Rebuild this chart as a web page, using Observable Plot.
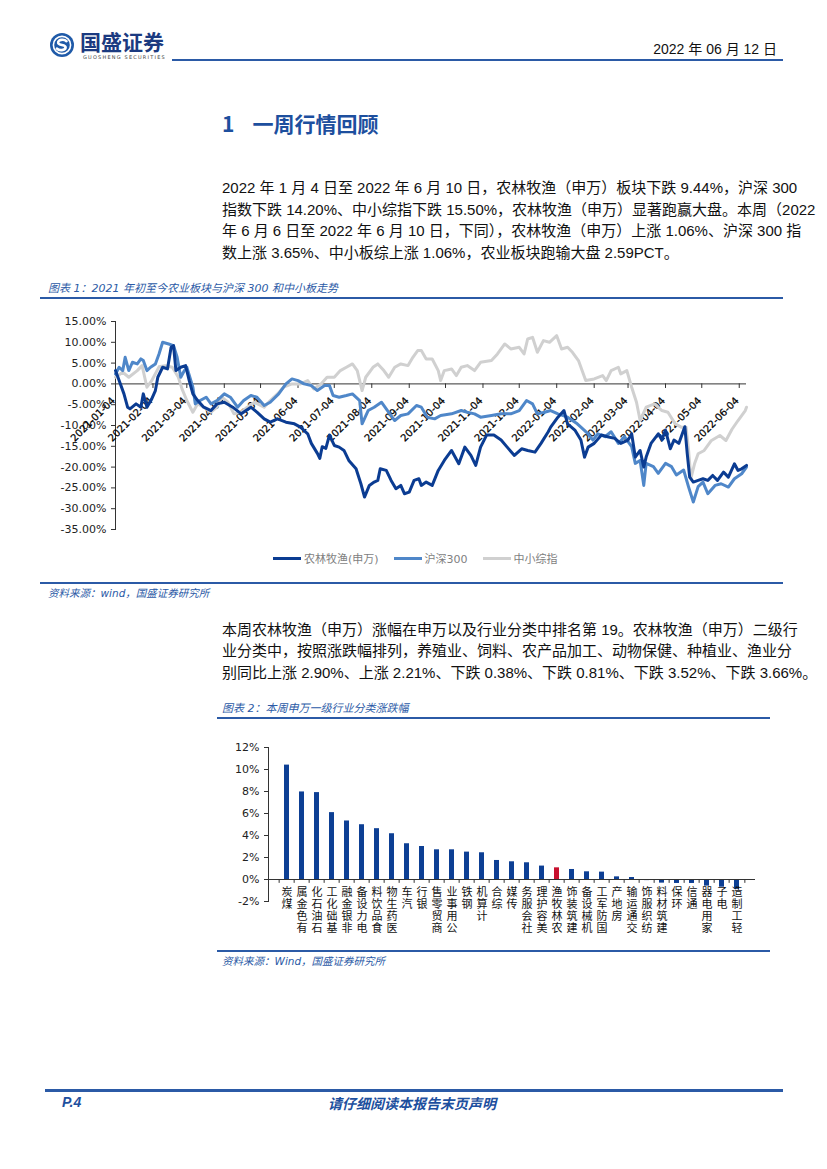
<!DOCTYPE html>
<html><head><meta charset="utf-8">
<script src="https://cdn.jsdelivr.net/npm/d3@7"></script>
<script src="https://cdn.jsdelivr.net/npm/@observablehq/plot@0.6"></script>
<style>
body{margin:0;background:#fff;}
#page{position:relative;width:827px;height:1169px;overflow:hidden;font-family:"Liberation Sans","Noto Sans CJK SC",sans-serif;color:#111;}
.abs{position:absolute;white-space:nowrap;}
.rule{position:absolute;background:#2b5aa6;}
.para{position:absolute;left:222px;width:561px;font-size:15px;color:#111;font-family:"Liberation Sans","Noto Sans CJK SC",sans-serif;}
.para div{text-align:justify;text-align-last:justify;white-space:nowrap;}
.para div.last{text-align-last:left;}
.cap{position:absolute;font-size:11px;font-style:italic;color:#2b5aa6;font-family:"DejaVu Sans","Noto Sans CJK SC",sans-serif;white-space:nowrap;}
.legend{position:absolute;left:273px;top:550px;display:flex;align-items:center;font-size:11px;color:#7f7f7f;font-family:"DejaVu Sans","Noto Sans CJK SC",sans-serif;}
.legend .sw{display:inline-block;width:28px;height:3px;margin-right:3px;}
.legend .it{display:flex;align-items:center;margin-right:15px;}
</style></head>
<body><div id="page">
<svg class="abs" style="left:50px;top:33px" width="24" height="24" viewBox="0 0 24 24">
<circle cx="12" cy="12" r="12" fill="#1f5aa8"/>
<circle cx="12" cy="12" r="8.6" fill="none" stroke="#fff" stroke-width="1.6"/>
<path d="M16.5 8.2 C14 5.8 7.5 6.5 8.2 10 C8.8 12.8 15.8 11.2 15.6 14.5 C15.3 17.6 9 18 7 15.6" fill="none" stroke="#fff" stroke-width="2.6" stroke-linecap="round"/>
</svg>
<div class="abs" style="left:80px;top:29px;font-size:21px;font-weight:700;color:#1b3a80;font-family:'Noto Sans CJK SC';line-height:24px;">国盛证券</div>
<div class="abs" style="left:83px;top:54px;font-size:5px;line-height:6px;letter-spacing:1.2px;color:#444;font-family:'DejaVu Sans';">GUOSHENG SECURITIES</div>
<div class="abs" style="right:50px;top:40px;font-size:14px;color:#111;line-height:18px;">2022 年 06 月 12 日</div>
<div class="rule" style="left:172px;top:59px;width:611px;height:2px;"></div>

<div class="abs" style="left:222px;top:110px;font-size:21px;font-weight:700;color:#1d4f9e;font-family:'Noto Sans CJK SC';line-height:26px;"><span style="margin-right:18px;">1</span>一周行情回顾</div>

<div class="para" style="top:177px;line-height:21.7px;">
<div>2022 年 1 月 4 日至 2022 年 6 月 10 日，农林牧渔（申万）板块下跌 9.44%，沪深 300</div>
<div>指数下跌 14.20%、中小综指下跌 15.50%，农林牧渔（申万）显著跑赢大盘。本周（2022</div>
<div>年 6 月 6 日至 2022 年 6 月 10 日，下同），农林牧渔（申万）上涨 1.06%、沪深 300 指</div>
<div class="last">数上涨 3.65%、中小板综上涨 1.06%，农业板块跑输大盘 2.59PCT。</div>
</div>

<div class="cap" style="left:48px;top:279px;">图表 1：2021 年初至今农业板块与沪深 300 和中小板走势</div>
<div class="rule" style="left:40px;top:297px;width:743px;height:2px;"></div>
<div id="chart1" class="abs" style="left:40px;top:305px;"></div>
<div class="legend">
<span class="it"><span class="sw" style="background:#0b3c92"></span>农林牧渔(申万)</span>
<span class="it"><span class="sw" style="background:#4f87c9"></span>沪深300</span>
<span class="it"><span class="sw" style="background:#d0d0d0"></span>中小综指</span>
</div>
<div class="rule" style="left:40px;top:582px;width:743px;height:1.5px;"></div>
<div class="cap" style="left:48px;top:585px;font-size:10.5px;">资料来源：wind，国盛证券研究所</div>

<div class="para" style="top:619px;line-height:21.3px;">
<div>本周农林牧渔（申万）涨幅在申万以及行业分类中排名第 19。农林牧渔（申万）二级行</div>
<div>业分类中，按照涨跌幅排列，养殖业、饲料、农产品加工、动物保健、种植业、渔业分</div>
<div class="last">别同比上涨 2.90%、上涨 2.21%、下跌 0.38%、下跌 0.81%、下跌 3.52%、下跌 3.66%。</div>
</div>

<div class="cap" style="left:222px;top:699px;">图表 2：本周申万一级行业分类涨跌幅</div>
<div class="rule" style="left:217px;top:717px;width:553px;height:2px;"></div>
<div id="chart2" class="abs" style="left:217px;top:735px;"></div>
<div class="rule" style="left:217px;top:950px;width:553px;height:2px;"></div>
<div class="cap" style="left:222px;top:953px;font-size:10.5px;">资料来源：Wind，国盛证券研究所</div>

<div class="rule" style="left:45px;top:1089px;width:738px;height:3px;"></div>
<div class="abs" style="left:62px;top:1094px;font-size:14px;font-weight:700;font-style:italic;color:#1d4f9e;">P.4</div>
<div class="abs" style="left:328px;top:1094px;font-size:14px;font-weight:700;font-style:italic;color:#1d4f9e;font-family:'Noto Sans CJK SC';line-height:18px;">请仔细阅读本报告末页声明</div>
</div>
<script>
// ---------- Chart 1 data (cumulative change, %) ----------
const seriesNames = ["农林牧渔(申万)", "沪深300", "中小综指"];
const agriDates = ["2021-01-04","2021-01-07","2021-01-11","2021-01-14","2021-01-16","2021-01-21","2021-01-25","2021-01-27","2021-01-30","2021-02-03","2021-02-06","2021-02-08","2021-02-12","2021-02-16","2021-02-19","2021-02-21","2021-02-23","2021-02-27","2021-03-03","2021-03-06","2021-03-09","2021-03-13","2021-03-18","2021-03-24","2021-03-29","2021-04-04","2021-04-11","2021-04-18","2021-04-26","2021-05-01","2021-05-07","2021-05-12","2021-05-18","2021-05-25","2021-06-01","2021-06-06","2021-06-12","2021-06-15","2021-06-20","2021-06-22","2021-06-24","2021-06-27","2021-06-30","2021-07-04","2021-07-08","2021-07-12","2021-07-16","2021-07-22","2021-07-26","2021-07-29","2021-08-02","2021-08-06","2021-08-09","2021-08-11","2021-08-16","2021-08-20","2021-08-24","2021-08-28","2021-08-31","2021-09-04","2021-09-08","2021-09-12","2021-09-14","2021-09-18","2021-09-23","2021-09-28","2021-10-03","2021-10-09","2021-10-15","2021-10-20","2021-10-25","2021-10-29","2021-11-02","2021-11-07","2021-11-13","2021-11-19","2021-11-24","2021-11-30","2021-12-06","2021-12-11","2021-12-17","2021-12-22","2021-12-28","2021-12-30","2022-01-05","2022-01-10","2022-01-13","2022-01-19","2022-01-24","2022-01-27","2022-01-30","2022-02-04","2022-02-10","2022-02-15","2022-02-21","2022-02-26","2022-03-04","2022-03-07","2022-03-10","2022-03-14","2022-03-17","2022-03-19","2022-03-23","2022-03-29","2022-04-01","2022-04-04","2022-04-08","2022-04-11","2022-04-15","2022-04-19","2022-04-20","2022-04-22","2022-04-24","2022-04-27","2022-05-01","2022-05-05","2022-05-09","2022-05-13","2022-05-17","2022-05-22","2022-05-26","2022-05-31","2022-06-03","2022-06-06","2022-06-10"];
const agriValues = [3.2,0.8,-2.4,-5.6,-6.0,-4.8,-5.6,-2.4,-5.6,-3.6,-1.6,1.6,4.0,3.6,8.8,9.2,3.2,4.0,4.4,0.8,-2.4,-4.0,-5.6,-6.4,-4.8,-4.4,-5.6,-7.2,-5.6,-6.8,-8.4,-9.2,-8.4,-9.2,-9.6,-10.4,-12.0,-14.3,-16.7,-17.9,-15.1,-15.5,-12.3,-14.8,-15.2,-16.0,-18.4,-20.4,-24.0,-27.2,-24.4,-23.6,-23.2,-20.4,-20.8,-23.2,-25.2,-24.4,-26.4,-26.0,-23.2,-22.8,-24.4,-23.6,-24.4,-20.8,-18.4,-16.0,-19.2,-15.2,-17.2,-19.6,-15.2,-12.3,-12.3,-13.5,-15.2,-17.2,-15.6,-16.0,-16.4,-14.3,-11.5,-10.4,-8.0,-6.4,-9.6,-11.1,-13.5,-17.6,-15.2,-14.3,-12.3,-12.7,-13.1,-14.3,-13.5,-12.0,-17.6,-16.0,-20.0,-17.6,-14.3,-12.0,-13.5,-11.1,-15.6,-13.5,-14.3,-11.1,-10.3,-16.8,-22.4,-23.6,-23.2,-22.8,-23.2,-22.0,-23.2,-21.2,-22.4,-19.2,-20.8,-20.4,-19.6];

const hs300Dates = ["2021-01-04","2021-01-07","2021-01-10","2021-01-12","2021-01-15","2021-01-18","2021-01-22","2021-01-25","2021-01-27","2021-01-30","2021-02-02","2021-02-06","2021-02-09","2021-02-12","2021-02-17","2021-02-21","2021-02-24","2021-02-27","2021-03-02","2021-03-04","2021-03-09","2021-03-11","2021-03-15","2021-03-20","2021-03-24","2021-03-29","2021-04-04","2021-04-09","2021-04-15","2021-04-20","2021-04-26","2021-05-01","2021-05-07","2021-05-12","2021-05-19","2021-05-25","2021-05-30","2021-06-04","2021-06-09","2021-06-15","2021-06-20","2021-06-26","2021-06-30","2021-07-03","2021-07-08","2021-07-14","2021-07-19","2021-07-25","2021-07-27","2021-08-01","2021-08-06","2021-08-12","2021-08-17","2021-08-23","2021-08-28","2021-09-03","2021-09-10","2021-09-14","2021-09-19","2021-09-25","2021-09-30","2021-10-09","2021-10-17","2021-10-22","2021-10-28","2021-11-02","2021-11-11","2021-11-19","2021-11-27","2021-12-04","2021-12-10","2021-12-15","2021-12-19","2021-12-25","2021-12-30","2022-01-05","2022-01-13","2022-01-21","2022-01-24","2022-01-30","2022-02-03","2022-02-07","2022-02-13","2022-02-18","2022-02-24","2022-03-01","2022-03-07","2022-03-10","2022-03-14","2022-03-17","2022-03-19","2022-03-25","2022-03-29","2022-04-04","2022-04-09","2022-04-13","2022-04-19","2022-04-23","2022-04-27","2022-05-01","2022-05-05","2022-05-09","2022-05-15","2022-05-20","2022-05-26","2022-05-31","2022-06-06","2022-06-10"];
const hs300Values = [2.4,4.0,3.2,6.4,3.2,5.2,4.8,6.0,5.6,3.2,4.0,4.8,7.2,10.0,9.6,9.2,6.4,1.6,3.2,4.0,-0.8,-4.8,-4.0,-3.2,-4.8,-4.0,-2.4,-3.2,-5.6,-4.0,-2.8,-3.2,-5.2,-4.4,-2.4,0.0,1.2,0.8,0.0,-0.4,-1.6,-0.4,-0.4,-2.8,-3.2,-2.8,-2.4,-4.0,-9.6,-6.4,-5.6,-4.4,-6.4,-8.8,-7.6,-7.2,-5.2,-5.6,-8.0,-8.4,-7.6,-7.2,-6.4,-6.8,-7.2,-8.0,-7.6,-7.2,-7.2,-6.4,-4.0,-4.8,-7.2,-6.8,-6.4,-7.2,-8.0,-9.6,-10.4,-12.0,-13.5,-12.0,-12.7,-11.5,-14.3,-12.7,-15.1,-19.1,-18.4,-24.4,-19.1,-19.9,-21.5,-19.1,-19.9,-21.9,-20.7,-24.7,-28.4,-24.7,-23.6,-26.4,-24.4,-24.0,-24.8,-22.8,-21.6,-20.0];

const smeDates = ["2021-01-04","2021-01-10","2021-01-15","2021-01-22","2021-01-26","2021-01-30","2021-02-03","2021-02-09","2021-02-14","2021-02-20","2021-02-25","2021-02-28","2021-03-04","2021-03-09","2021-03-13","2021-03-18","2021-03-24","2021-03-29","2021-04-02","2021-04-07","2021-04-12","2021-04-18","2021-04-23","2021-04-29","2021-05-07","2021-05-12","2021-05-18","2021-05-23","2021-05-30","2021-06-06","2021-06-12","2021-06-17","2021-06-23","2021-06-28","2021-07-04","2021-07-09","2021-07-14","2021-07-19","2021-07-23","2021-07-27","2021-07-30","2021-08-05","2021-08-09","2021-08-14","2021-08-18","2021-08-23","2021-08-28","2021-09-03","2021-09-07","2021-09-11","2021-09-14","2021-09-18","2021-09-23","2021-09-28","2021-09-30","2021-10-03","2021-10-09","2021-10-13","2021-10-17","2021-10-22","2021-10-28","2021-11-02","2021-11-11","2021-11-16","2021-11-22","2021-11-27","2021-12-04","2021-12-08","2021-12-11","2021-12-15","2021-12-19","2021-12-24","2021-12-29","2022-01-04","2022-01-08","2022-01-13","2022-01-17","2022-01-22","2022-01-28","2022-02-04","2022-02-11","2022-02-14","2022-02-18","2022-02-24","2022-02-26","2022-03-03","2022-03-07","2022-03-11","2022-03-14","2022-03-19","2022-03-26","2022-04-01","2022-04-06","2022-04-12","2022-04-17","2022-04-21","2022-04-23","2022-04-25","2022-04-28","2022-05-01","2022-05-06","2022-05-12","2022-05-19","2022-05-24","2022-05-29","2022-06-03","2022-06-09","2022-06-10"];
const smeValues = [1.6,2.8,1.6,3.2,4.4,-0.8,0.8,4.1,4.4,4.0,1.6,-1.2,-4.0,-6.8,-4.8,-5.6,-6.8,-5.6,-3.2,-4.4,-7.2,-6.8,-5.6,-4.4,-5.6,-4.0,-2.4,-0.8,0.0,0.0,0.8,-1.2,0.0,1.6,1.6,3.2,4.0,4.8,3.2,-1.6,1.6,4.0,4.8,3.2,1.6,4.0,4.8,4.4,6.4,8.0,8.0,6.0,6.0,3.2,0.8,3.2,3.6,2.0,4.0,4.4,3.2,5.2,5.6,7.2,9.6,8.4,8.8,7.2,10.8,11.2,7.6,10.4,10.0,11.6,8.4,8.8,7.6,5.6,0.8,1.2,2.0,0.8,3.2,4.0,2.4,3.2,-0.8,-4.4,-8.8,-5.6,-4.8,-6.4,-6.8,-9.6,-10.4,-10.4,-15.6,-22.7,-19.2,-16.8,-16.0,-13.6,-12.4,-13.6,-10.9,-8.8,-6.4,-5.6];

const seriesColors = ["#0b3c92", "#4f87c9", "#d0d0d0"];
const xTickLabels = ["2021-01-04","2021-02-04","2021-03-04","2021-04-04","2021-05-04","2021-06-04","2021-07-04","2021-08-04","2021-09-04","2021-10-04","2021-11-04","2021-12-04","2022-01-04","2022-02-04","2022-03-04","2022-04-04","2022-05-04","2022-06-04"];
const yTicks1 = [15,10,5,0,-5,-10,-15,-20,-25,-30,-35];
const xDomain1 = ["2021-01-04","2022-06-10"];

// ---------- Chart 2 data (weekly change, %) ----------
const industries = ["煤炭","有色金属","石油石化","基础化工","非银金融","电力设备","食品饮料","医药生物","汽车","银行","商贸零售","公用事业","钢铁","计算机","综合","传媒","社会服务","美容护理","农林牧渔","建筑装饰","机械设备","国防军工","房地产","交通运输","纺织服饰","建筑材料","环保","通信","家用电器","电子","轻工制造"];
const weekChange = [10.4,7.96,7.9,6.08,5.32,4.98,4.62,4.16,3.25,3.0,2.7,2.7,2.49,2.43,1.73,1.61,1.52,1.22,1.06,0.91,0.70,0.67,0.24,0.18,-0.1,-0.33,-0.36,-0.36,-0.6,-0.7,-0.9];
const highlight = "农林牧渔";
const yTicks2 = [12,10,8,6,4,2,0,-2];

// ---------- build ----------
const mk = (dates, vals, s) => dates.map((d, i) => ({date: new Date(d), v: vals[i], s}));
const agri = mk(agriDates, agriValues, seriesNames[0]);
const hs300 = mk(hs300Dates, hs300Values, seriesNames[1]);
const sme = mk(smeDates, smeValues, seriesNames[2]);
const tickDates = xTickLabels.map(d => new Date(d));

const chart1 = Plot.plot({
  width: 743, height: 270,
  marginLeft: 75, marginRight: 37, marginTop: 16, marginBottom: 46,
  x: {type: "utc", domain: xDomain1.map(d => new Date(d)), axis: null},
  y: {domain: [-35, 15], axis: null},
  style: {fontFamily: "DejaVu Sans", fontSize: "11px", color: "#222", background: "transparent", overflow: "visible"},
  marks: [
    Plot.axisY({ticks: yTicks1, tickFormat: d => d.toFixed(2) + "%", tickSize: 4, tickPadding: 5, label: null, stroke: "#333"}),
    Plot.frame({anchor: "left", stroke: "#333"}),
    Plot.ruleY([0], {stroke: "#333"}),
    Plot.ruleX(tickDates, {x: d => d, y1: 0, y2: -1.1, stroke: "#333"}),
    Plot.text(xTickLabels, {x: d => new Date(d), y: 0, text: d => d, rotate: -45, textAnchor: "end", dx: -2, dy: 15, fontSize: 10, fill: "#000", stroke: "#000", strokeWidth: 0.25}),
    Plot.line(sme, {x: "date", y: "v", stroke: seriesColors[2], strokeWidth: 3}),
    Plot.line(hs300, {x: "date", y: "v", stroke: seriesColors[1], strokeWidth: 3}),
    Plot.line(agri, {x: "date", y: "v", stroke: seriesColors[0], strokeWidth: 3})
  ]
});
document.getElementById("chart1").append(chart1);

const rows = industries.map((n, i) => ({name: n, v: weekChange[i]}));
const step2 = (555 - 51 - 17) / industries.length;
const chart2 = Plot.plot({
  width: 555, height: 205,
  marginLeft: 51, marginRight: 17, marginTop: 12, marginBottom: 39,
  x: {domain: industries, paddingInner: 0.68, paddingOuter: 0.34, axis: null},
  y: {domain: [-2, 12], axis: null},
  color: {type: "identity"},
  style: {fontFamily: "DejaVu Sans", fontSize: "11px", color: "#222", background: "transparent", overflow: "visible"},
  marks: [
    Plot.axisY({ticks: yTicks2, tickFormat: d => d + "%", tickSize: 4, tickPadding: 5, label: null, stroke: "#333"}),
    Plot.frame({anchor: "left", stroke: "#333"}),
    Plot.barY(rows, {x: "name", y: "v", fill: d => d.name === highlight ? "#c8102e" : "#0d3f94"}),
    Plot.ruleY([0], {stroke: "#333"}),
    Plot.ruleX(industries, {x: d => d, y1: 0, y2: -0.35, dx: -step2 / 2, stroke: "#333"}),
    Plot.ruleX(industries.slice(-1), {x: d => d, y1: 0, y2: -0.35, dx: step2 / 2, stroke: "#333"}),
    // category labels: upright characters stacked, read bottom-to-top
    Plot.text(industries, {x: d => d, y: 0, text: d => Array.from(d).reverse().join(""), textAnchor: "start", dy: 3, fontSize: 11, fontFamily: "Noto Sans CJK SC", fill: "#111"})
  ]
});
// stack the category labels vertically (upright glyphs)
d3.select(chart2).selectAll('g[aria-label="text"] text')
  .attr("dy", null)
  .style("writing-mode", "vertical-rl")
  .style("text-orientation", "upright")
  .style("letter-spacing", "1.2px");
document.getElementById("chart2").append(chart2);
</script>
</body></html>
